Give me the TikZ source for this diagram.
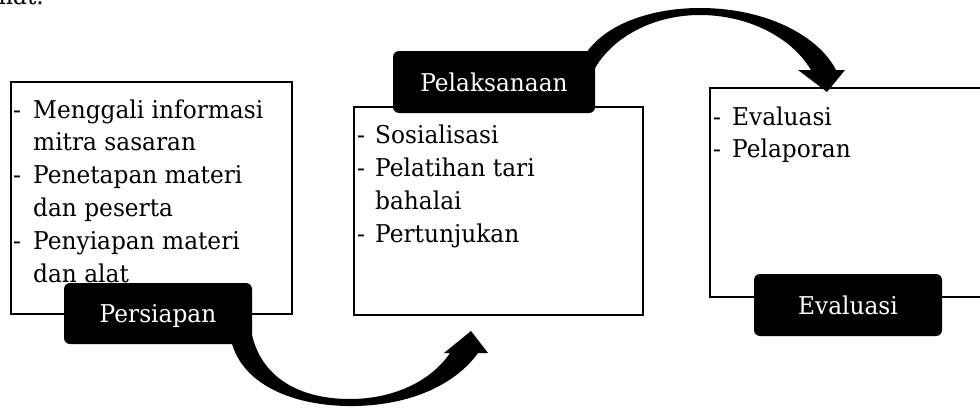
\documentclass[tikz,border=0pt]{standalone}
\usepackage{fontspec}
\setmainfont{DejaVu Serif}[FakeStretch=0.95]
\begin{document}
\begin{tikzpicture}[x=1pt,y=-1pt,
  box/.style={draw=black,line width=1.5pt,fill=white,inner sep=0pt,anchor=north west},
  lbl/.style={fill=black,rounded corners=6pt,text=white,inner sep=0pt,
    font=\fontsize{24.5}{28}\selectfont,text height=18pt,text depth=0pt},
  ln/.style={anchor=base west,inner sep=0pt,font=\fontsize{24.5}{28}\selectfont},
  arr/.style={fill=black}]
\useasboundingbox (0,0) rectangle (980,407);
\clip (0,0) rectangle (980,407);
% clipped fragment of preceding text
\node[ln,anchor=base east] (frag) at (44,4) {mat.};
% boxes
\node[box,minimum width=281pt,minimum height=232pt] (b1) at (10,81) {};
\node[box,minimum width=289pt,minimum height=208pt] (b2) at (353,106) {};
\node[box,minimum width=286pt,minimum height=209pt] (b3) at (709,87) {};
% box texts
\foreach \t [count=\i] in {Menggali informasi,mitra sasaran,Penetapan materi,dan peserta,Penyiapan materi,dan alat}
  \node[ln] (b1t\i) at (33,{118+(\i-1)*32.8}) {\t};
\foreach \k/\j in {1/0,2/2,3/4}
  \node[ln] (b1d\k) at (13,{118+\j*32.8}) {-};
\foreach \t [count=\i] in {Sosialisasi,Pelatihan tari,bahalai,Pertunjukan}
  \node[ln] (b2t\i) at (375,{143+(\i-1)*33}) {\t};
\foreach \k/\j in {1/0,2/1,3/3}
  \node[ln] (b2d\k) at (357,{143+\j*33}) {-};
\foreach \t [count=\i] in {Evaluasi,Pelaporan}
  \node[ln] (b3t\i) at (732,{125+(\i-1)*32}) {\t};
\foreach \k/\j in {1/0,2/1}
  \node[ln] (b3d\k) at (713,{125+\j*32}) {-};
% curved arrows
\fill[arr] (230,335) .. controls (238,385) and (295,407) .. (355,406)
  .. controls (410,405) and (455,385) .. (478,353) -- (488,353) -- (471,331)
  -- (444,353) -- (450,353) .. controls (432,380) and (395,399) .. (350,399)
  .. controls (300,399) and (262,378) .. (252,335) -- cycle;
\fill[arr] (582,60) .. controls (600,25) and (650,8) .. (700,8)
  .. controls (765,8) and (818,35) .. (836,70) -- (845,70) -- (827,92)
  -- (798,70) -- (811,70) .. controls (790,35) and (745,15) .. (700,15)
  .. controls (650,15) and (610,40) .. (594,70) -- cycle;
% labels
\node[lbl,minimum width=188pt,minimum height=61pt] (l1) at (158,313.5) {Persiapan};
\node[lbl,minimum width=202pt,minimum height=62pt] (l2) at (494,82) {Pelaksanaan};
\node[lbl,minimum width=188pt,minimum height=62pt] (l3) at (848,305) {Evaluasi};
\end{tikzpicture}
\end{document}
